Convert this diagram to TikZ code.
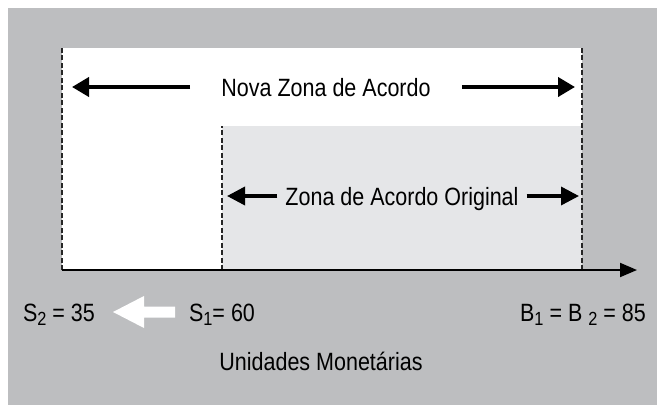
\documentclass[tikz,border=0pt]{standalone}
\usepackage{fontspec}
\setmainfont{Liberation Sans}[FakeStretch=0.86]
\usetikzlibrary{arrows.meta}
\definecolor{fundo}{RGB}{189,190,192}
\definecolor{zona}{RGB}{229,230,232}
\newcommand\indice[1]{\raisebox{-4pt}{\fontsize{19}{20}\selectfont #1}}

\begin{document}
\begin{tikzpicture}[x=1pt,y=-1pt,
    rotulo/.style={font=\fontsize{25}{30}\selectfont, inner sep=0pt, text height=18pt, text depth=0pt},
    divisa/.style={line width=1.1pt, black!85, dash pattern=on 5pt off 2.5pt},
    seta/.style={line width=4pt, -{Triangle[length=17pt,width=19pt]}},
    setaorig/.style={line width=3.5pt, -{Triangle[length=18pt,width=18pt]}},
    eixo/.style={line width=2pt, -{Triangle[length=17pt,width=14pt]}}]
  \useasboundingbox (0,0) rectangle (657,405);
  \fill[fundo] (8,8) rectangle (657,405);
  \fill[white] (62,48) rectangle (582,270);
  \fill[zona] (222,126) rectangle (582,270);
  % limites
  \coordinate (s2) at (62,270);  \coordinate (s2top) at (62,48);
  \coordinate (s1) at (222,270); \coordinate (s1top) at (222,126);
  \coordinate (b) at (582,270);  \coordinate (btop) at (582,48);
  \coordinate (fim) at (637,270);
  \draw[divisa] (s2) -- (s2top);
  \draw[divisa] (s1) -- (s1top);
  \draw[divisa] (b) -- (btop);
  \draw[eixo] (s2) -- (fim);
  % zonas
  \node[rotulo, inner xsep=31pt] (nova) at (326,87) {Nova Zona de Acordo};
  \coordinate (novaesq) at (72,87); \coordinate (novadir) at (575,87);
  \draw[seta] (nova) -- (novaesq);
  \draw[seta] (nova) -- (novadir);
  \node[rotulo, inner xsep=8pt] (orig) at (402,196) {Zona de Acordo Original};
  \coordinate (origesq) at (227,196); \coordinate (origdir) at (579,196);
  \draw[setaorig] (orig) -- (origesq);
  \draw[setaorig] (orig) -- (origdir);
  % valores
  \node[rotulo] (vs2) at (59,312) {S\indice{2} = 35};
  \node[rotulo] (vs1) at (222,312) {S\indice{1}= 60};
  \node[rotulo] (vb) at (583,312) {B\indice{1} = B \indice{2} = 85};
  \fill[white] (113,312) -- (144,296) -- (144,306.5) -- (175,306.5)
    -- (175,317.5) -- (144,317.5) -- (144,328) -- cycle;
  \node[rotulo] (unid) at (321,361) {Unidades Monetárias};
\end{tikzpicture}
\end{document}
